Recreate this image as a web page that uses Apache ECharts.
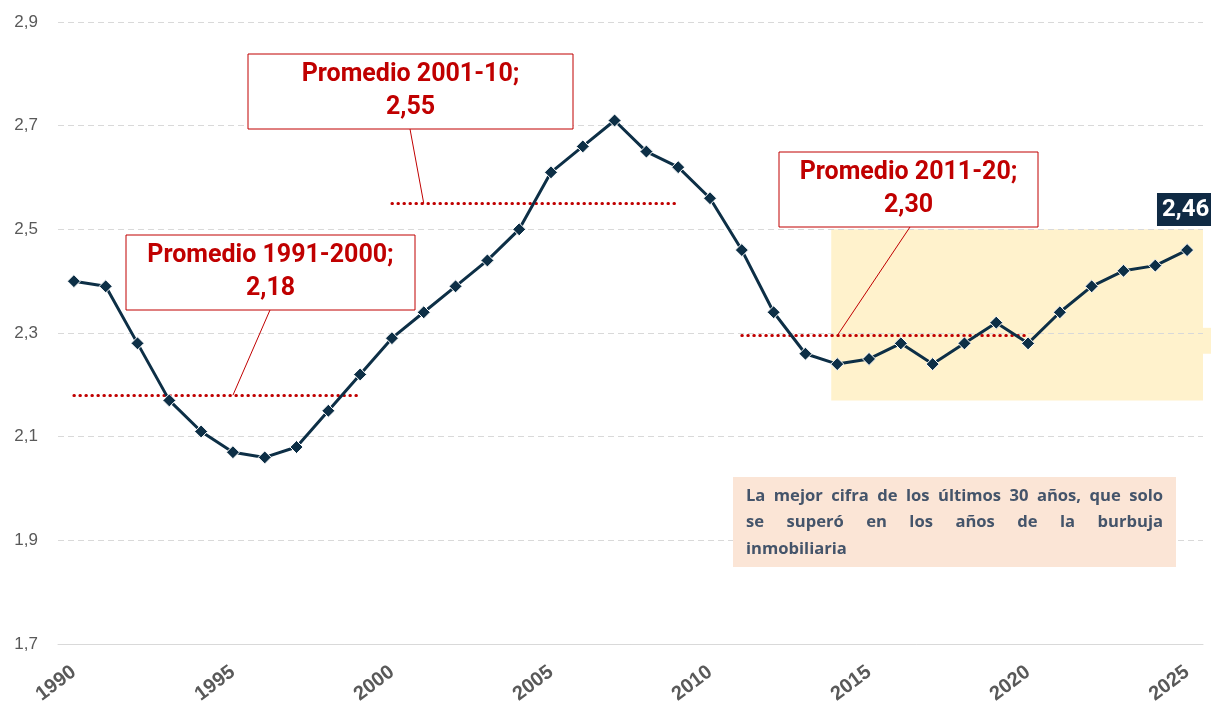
<!DOCTYPE html>
<html>
<head>
<meta charset="utf-8">
<script src="https://cdn.jsdelivr.net/npm/echarts@6/dist/echarts.min.js"></script>
<style>
  html, body { margin: 0; padding: 0; background: #fff; }
  #chart { width: 1211px; height: 709px; }
</style>
</head>
<body>
<div id="chart"></div>
<script>
// años y valores
var years = [];
for (var y = 1990; y <= 2025; y++) years.push(String(y));
var values = [2.40, 2.39, 2.28, 2.17, 2.11, 2.07, 2.06, 2.08, 2.15, 2.22,
              2.29, 2.34, 2.39, 2.44, 2.50, 2.61, 2.66, 2.71, 2.65, 2.62,
              2.56, 2.46, 2.34, 2.26, 2.24, 2.25, 2.28, 2.24, 2.28, 2.32,
              2.28, 2.34, 2.39, 2.42, 2.43, 2.46];

// promedios por decada: [desde, hasta, valor]
var avgFrom = ['1990', '2000', '2011'];
var avgTo = ['1999', '2009', '2020'];
var avgValues = [2.18, 2.55, 2.295];
var avgTitles = ['Promedio 1991-2000;', 'Promedio 2001-10;', 'Promedio 2011-20;'];
var avgLabels = ['2,18', '2,55', '2,30'];
var avgAnchor = ['1995', '2001', '2014'];

var noteLines = ['La mejor cifra de los últimos 30 años, que solo',
                 'se superó en los años de la burbuja',
                 'inmobiliaria'];

var navy = '#0d2f46';
var red = '#c00000';

var chart = echarts.init(document.getElementById('chart'));

var seriesData = values.map(function (v, i) {
  if (i === values.length - 1) {
    return {
      value: v,
      label: {
        show: true, position: 'top', distance: 17,
        formatter: function (p) { return p.value.toFixed(2).replace('.', ','); },
        backgroundColor: '#0f2a44', color: '#fff',
        fontFamily: 'Roboto', fontWeight: 'bold', fontSize: 24,
        padding: [5, 4, 4, 5], offset: [-2, 0]
      }
    };
  }
  return v;
});

var markLines = avgValues.map(function (v, i) {
  return [{ coord: [avgFrom[i], v] }, { coord: [avgTo[i], v] }];
});

var option = {
  animation: false,
  grid: { left: 58, right: 8, top: 22, bottom: 65, containLabel: false, outerBoundsMode: 'none' },
  xAxis: {
    type: 'category',
    data: years,
    boundaryGap: true,
    axisLine: { show: true, lineStyle: { color: '#d9d9d9', width: 1 } },
    axisTick: { show: false },
    axisLabel: {
      interval: 4, rotate: 37, margin: 26,
      color: '#595959', fontSize: 20, fontWeight: 'bold', fontFamily: 'Liberation Sans'
    },
    splitLine: { show: false }
  },
  yAxis: {
    type: 'value',
    min: 1.7, max: 2.9, interval: 0.2,
    axisLine: { show: false },
    axisTick: { show: false },
    axisLabel: {
      margin: 20, color: '#595959', fontSize: 17, fontFamily: 'Liberation Sans',
      formatter: function (v) { return v.toFixed(1).replace('.', ','); }
    },
    splitLine: { show: true, lineStyle: { color: '#d9d9d9', type: [6, 4], width: 1 } }
  },
  series: [{
    type: 'line',
    data: seriesData,
    z: 5,
    symbol: 'diamond',
    symbolSize: 13,
    lineStyle: { color: navy, width: 3 },
    itemStyle: { color: navy, borderColor: '#fff', borderWidth: 1 },
    markLine: {
      silent: true,
      symbol: ['none', 'none'],
      label: { show: false },
      lineStyle: { color: red, type: [0.5, 5.5], width: 3, cap: 'round' },
      data: markLines
    }
  }]
};
chart.setOption(option);

// anotaciones
function px(cat, val) { return chart.convertToPixel({ gridIndex: 0 }, [cat, val]); }

var boxes = [
  { x: 126, y: 235, w: 289, h: 75, lx: 270 },
  { x: 248, y: 54, w: 325, h: 75, lx: 410 },
  { x: 779, y: 152, w: 259, h: 75, lx: 910 }
];

var graphics = [];

// zona destacada
var hlTop = px('2014', 2.5)[1];
var hlBot = px('2014', 2.17)[1];
var hlLeft = px('2014', 2.5)[0] - 6;
graphics.push({
  type: 'rect', z: -1,
  shape: { x: hlLeft, y: hlTop, width: 1203 - hlLeft, height: hlBot - hlTop },
  style: { fill: '#fff2cc' }
});
var stubTop = px('2025', 2.31)[1];
var stubBot = px('2025', 2.26)[1];
graphics.push({
  type: 'rect', z: -1,
  shape: { x: 1203, y: stubTop, width: 8, height: stubBot - stubTop },
  style: { fill: '#fff2cc' }
});

boxes.forEach(function (b, i) {
  var end = px(avgAnchor[i], avgValues[i]);
  graphics.push({
    type: 'line', z: 10,
    shape: { x1: b.lx, y1: b.y + b.h, x2: end[0], y2: end[1] },
    style: { stroke: red, lineWidth: 1 }
  });
  graphics.push({
    type: 'rect', z: 10,
    shape: { x: b.x, y: b.y, width: b.w, height: b.h },
    style: { fill: '#fff', stroke: red, lineWidth: 1 }
  });
  graphics.push({
    type: 'text', z: 11,
    x: b.x + b.w / 2, y: b.y + 21,
    style: {
      text: avgTitles[i], fill: red, font: 'bold 25px Roboto',
      textAlign: 'center', textVerticalAlign: 'middle'
    }
  });
  graphics.push({
    type: 'text', z: 11,
    x: b.x + b.w / 2, y: b.y + 54,
    style: {
      text: avgLabels[i], fill: red, font: 'bold 25px Roboto',
      textAlign: 'center', textVerticalAlign: 'middle'
    }
  });
});

// cuadro de nota con texto justificado
var noteFont = 'bold 16.6px "Open Sans"';
var nx = 733, ny = 477, nw = 443, nh = 90, pad = 13;
graphics.push({
  type: 'rect', z: 10,
  shape: { x: nx, y: ny, width: nw, height: nh },
  style: { fill: '#fbe5d6' }
});
var ctx = document.createElement('canvas').getContext('2d');
ctx.font = noteFont;
var lineW = nw - 2 * pad;
noteLines.forEach(function (line, li) {
  var yy = ny + 19 + li * 26.5;
  var words = line.split(' ');
  if (li === noteLines.length - 1) {
    graphics.push({
      type: 'text', z: 11, x: nx + pad, y: yy,
      style: { text: line, fill: '#44546a', font: noteFont, textVerticalAlign: 'middle' }
    });
    return;
  }
  var total = 0;
  words.forEach(function (w) { total += ctx.measureText(w).width; });
  var gap = (lineW - total) / (words.length - 1);
  var cx = nx + pad;
  words.forEach(function (w) {
    graphics.push({
      type: 'text', z: 11, x: cx, y: yy,
      style: { text: w, fill: '#44546a', font: noteFont, textVerticalAlign: 'middle' }
    });
    cx += ctx.measureText(w).width + gap;
  });
});

chart.setOption({ graphic: graphics });
</script>
</body>
</html>
